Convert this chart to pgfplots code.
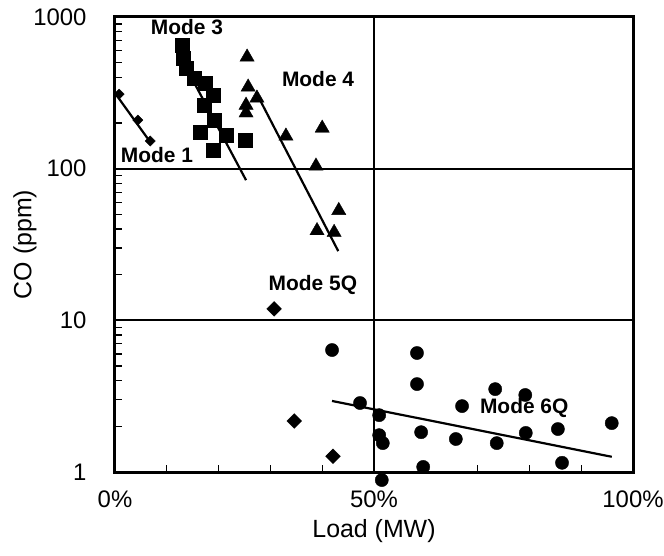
\documentclass[border=0pt]{standalone}
\usepackage{pgfplots}
\pgfplotsset{compat=1.18}
\usepackage{fontspec}
\setmainfont{Liberation Sans}
\begin{document}
\begin{tikzpicture}
\path[use as bounding box] (-115bp,-84bp) rectangle (549bp,472bp);
\begin{axis}[
  at={(0,0)}, anchor=south west,
  scale only axis, width=518bp, height=455bp,
  xmin=0, xmax=100, ymode=log, ymin=1, ymax=1000,
  clip=false,
  axis line style={line width=3bp},
  axis background/.style={draw=black, line width=3bp},
  xtick pos=bottom, ytick pos=left,
  xtick={0,50,100}, xticklabels={0\%,50\%,100\%},
  minor xtick={10,20,30,40,60,70,80,90},
  ytick={1,10,100,1000}, yticklabels={1,10,100,1000},
  minor ytick={2,3,4,5,6,7,8,9,20,30,40,50,60,70,80,90,200,300,400,500,600,700,800,900},
  xmajorgrids=true, ymajorgrids=true, xminorgrids=false, yminorgrids=false,
  grid style={black, line width=2bp},
  major tick style={black, line width=1.3bp},
  minor tick style={black, line width=1.3bp},
  major tick length=8bp, minor tick length=7bp,
  tick align=inside,
  ticklabel style={font=\fontsize{24}{28}\selectfont},
  xticklabel style={anchor=center, yshift=-27bp},
  yticklabel style={anchor=east, xshift=-25bp},
  xlabel={Load (MW)}, ylabel={CO (ppm)},
  label style={font=\fontsize{25}{30}\selectfont},
  xlabel style={at={(axis description cs:0.5,-0.13)}, anchor=center},
  ylabel style={at={(axis description cs:-0.174,0.5)}, anchor=center},
]
% Mode 1
\addplot[only marks, mark=square*, mark size=3.6bp, mark options={rotate=45, fill=black, draw=black}] coordinates {
 (0.8,310) (4.4,209) (6.8,152)
};
\addplot[black, line width=2.2bp, no marks] coordinates {(0,315) (7.1,145)};
% Mode 3
\addplot[only marks, mark=square*, mark size=7bp, mark options={fill=black, draw=black}] coordinates {
 (12.9,653) (13.1,536) (13.7,460) (15.3,396) (17.4,367) (18.9,306)
 (17.2,262) (19.1,209) (16.4,174) (21.4,167) (25.1,154) (18.9,133)
};
\addplot[black, line width=2.2bp, no marks] coordinates {(14.5,414) (25.3,84)};
% Mode 4
\addplot[only marks, mark=triangle*, mark size=8.2bp, mark options={fill=black, draw=black}] coordinates {
 (25.5,544) (25.7,345) (27.4,292) (25.3,262) (25.3,233) (33.0,164)
 (40.0,185) (38.8,104) (43.2,53) (39.0,39) (42.3,38)
};
\addplot[black, line width=2.2bp, no marks] coordinates {(27.2,320) (43.1,28.6)};
% Mode 5Q
\addplot[only marks, mark=square*, mark size=5.2bp, mark options={rotate=45, fill=black, draw=black}] coordinates {
 (30.7,11.9) (34.6,2.17) (42.1,1.27)
};
% Mode 6Q
\addplot[only marks, mark=*, mark size=6.6bp, mark options={fill=black, draw=black}] coordinates {
 (41.9,6.37) (58.3,6.09) (58.3,3.80) (47.3,2.85) (51.0,2.37) (51.0,1.75)
 (51.7,1.55) (59.1,1.83) (65.8,1.65) (73.4,3.52) (79.2,3.22) (67.0,2.72)
 (73.7,1.55) (79.3,1.81) (85.5,1.92) (95.9,2.10) (59.5,1.08) (86.3,1.15)
 (51.5,0.885)
};
\addplot[black, line width=2.2bp, no marks] coordinates {(41.9,2.94) (95.9,1.26)};
% labels
\node[font=\bfseries\fontsize{21}{24}\selectfont, inner sep=0pt] at (axis cs:13.9,858) {Mode 3};
\node[font=\bfseries\fontsize{21}{24}\selectfont, inner sep=0pt] at (axis cs:39.2,390) {Mode 4};
\node[font=\bfseries\fontsize{21}{24}\selectfont, inner sep=0pt] at (axis cs:8.1,123) {Mode 1};
\node[font=\bfseries\fontsize{21}{24}\selectfont, inner sep=0pt] at (axis cs:38.2,17.1) {Mode 5Q};
\node[font=\bfseries\fontsize{21}{24}\selectfont, inner sep=0pt] at (axis cs:79.0,2.64) {Mode 6Q};
\end{axis}
\end{tikzpicture}
\end{document}
